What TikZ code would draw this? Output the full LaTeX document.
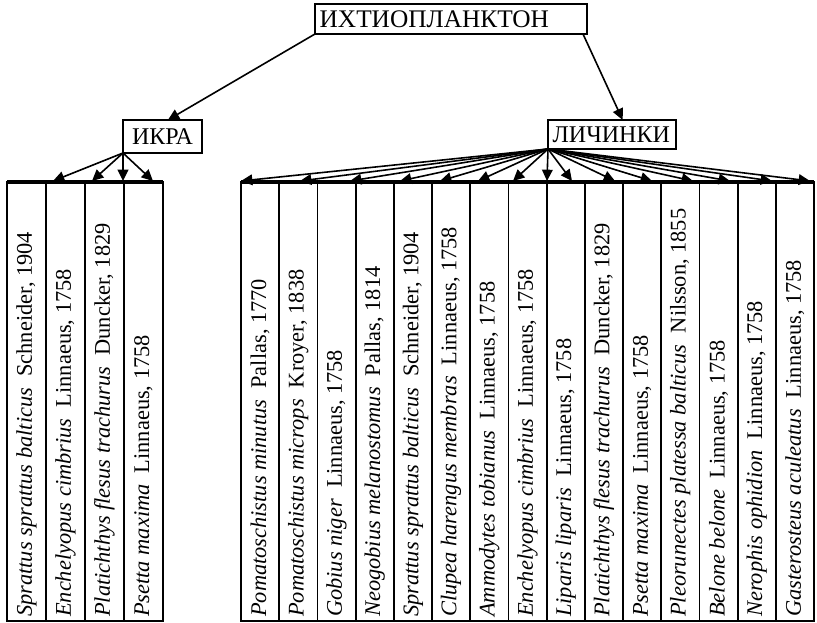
\documentclass[tikz,border=0pt]{standalone}
\usepackage{fontspec}
\setmainfont{Liberation Serif}
\usepackage{graphicx}
\usetikzlibrary{arrows.meta, positioning, calc}

% one column of the table: species name upright-rotated, from the bottom
\newcommand{\fish}[2]{\rotatebox{90}{\makebox[323pt][l]{\textit{#1}\enspace#2}}}

\begin{document}
\begin{tikzpicture}[x=0.75pt, y=-0.75pt,
    box/.style={draw, line width=1.9pt, inner ysep=0pt, inner xsep=3.5pt,
                outer sep=0pt, anchor=north west,
                font=\fontsize{18}{20}\selectfont},
    col/.style={draw, line width=1.35pt, inner sep=0pt, outer sep=0pt,
                minimum width=28.65pt, minimum height=329.25pt,
                font=\fontsize{16.8}{20}\selectfont},
    topline/.style={line width=2.3pt},
    arr/.style={-{Triangle[length=8.5pt,width=8pt]}, line width=1.2pt}
  ]
  \useasboundingbox (0,0) rectangle (817,623);

  % boxes
  \node[box, minimum height=22.5pt, text width=197pt, align=left,
        font=\fontsize{19}{21}\selectfont] (ichtio) at (315,4) {ИХТИОПЛАНКТОН};
  \node[box, minimum height=24.75pt, minimum width=59.25pt] (ikra) at (123,120) {ИКРА};
  \node[box, minimum height=21.75pt, text width=89pt, align=left] (lich) at (548,120) {ЛИЧИНКИ};

  \draw[arr] (ichtio.south west) -- ([xshift=4pt]ikra.north);
  \draw[arr] ([xshift=-3pt]ichtio.south east) -- ([xshift=8pt]lich.north);

  % eggs
  \node[col, anchor=north west, minimum width=29.25pt] (ikra1) at (7,182)
    {\fish{Sprattus sprattus balticus}{Schneider, 1904}};
  \node[col, minimum width=29.25pt, right=0pt of ikra1] (ikra2) {\fish{Enchelyopus cimbrius}{Linnaeus, 1758}};
  \node[col, minimum width=29.25pt, right=0pt of ikra2] (ikra3) {\fish{Platichthys flesus trachurus}{Duncker, 1829}};
  \node[col, minimum width=29.25pt, right=0pt of ikra3] (ikra4) {\fish{Psetta maxima}{Linnaeus, 1758}};
  \draw[topline] (ikra1.north west) -- (ikra4.north east);

  % larvae
  \node[col, anchor=north west] (lich1) at (241,182)
    {\fish{Pomatoschistus minutus}{Pallas, 1770}};
  \node[col, right=0pt of lich1] (lich2) {\fish{Pomatoschistus microps}{Kroyer, 1838}};
  \node[col, right=0pt of lich2] (lich3) {\fish{Gobius niger}{Linnaeus, 1758}};
  \node[col, right=0pt of lich3] (lich4) {\fish{Neogobius melanostomus}{Pallas, 1814}};
  \node[col, right=0pt of lich4] (lich5) {\fish{Sprattus sprattus balticus}{Schneider, 1904}};
  \node[col, right=0pt of lich5] (lich6) {\fish{Clupea harengus membras}{Linnaeus, 1758}};
  \node[col, right=0pt of lich6] (lich7) {\fish{Ammodytes tobianus}{Linnaeus, 1758}};
  \node[col, right=0pt of lich7] (lich8) {\fish{Enchelyopus cimbrius}{Linnaeus, 1758}};
  \node[col, right=0pt of lich8] (lich9) {\fish{Liparis liparis}{Linnaeus, 1758}};
  \node[col, right=0pt of lich9] (lich10) {\fish{Platichthys flesus trachurus}{Duncker, 1829}};
  \node[col, right=0pt of lich10] (lich11) {\fish{Psetta maxima}{Linnaeus, 1758}};
  \node[col, right=0pt of lich11] (lich12) {\fish{Pleorunectes platessa balticus}{Nilsson, 1855}};
  \node[col, right=0pt of lich12] (lich13) {\fish{Belone belone}{Linnaeus, 1758}};
  \node[col, right=0pt of lich13] (lich14) {\fish{Nerophis ophidion}{Linnaeus, 1758}};
  \node[col, right=0pt of lich14] (lich15) {\fish{Gasterosteus aculeatus}{Linnaeus, 1758}};
  \draw[topline] (lich1.north west) -- (lich15.north east);

  % arrow ends on the table tops
  \foreach \x [count=\i] in {53,92,123,153}
    \coordinate (ie\i) at (\x,181);
  \foreach \x [count=\i] in {241,300,350,400,440,478,513,547,572,615,652,693,730,772,810}
    \coordinate (le\i) at (\x,181);

  \foreach \i in {1,...,4}
    \draw[arr] (ikra.south west) -- (ie\i);
  \foreach \i in {1,...,15}
    \draw[arr] (lich.south west) -- (le\i);
\end{tikzpicture}
\end{document}
